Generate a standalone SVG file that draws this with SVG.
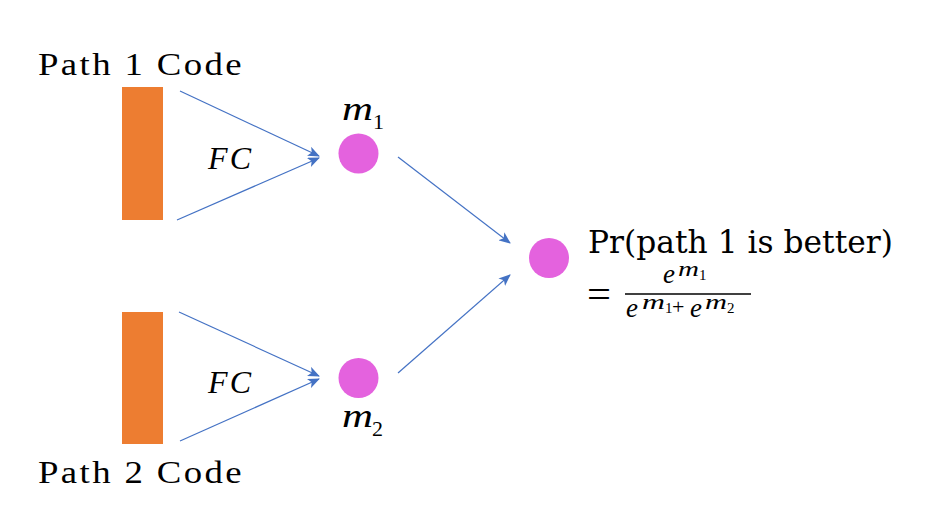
<svg xmlns="http://www.w3.org/2000/svg" width="945" height="525" viewBox="0 0 945 525">
<style>
.lbl{font-family:"Liberation Serif","DejaVu Serif",serif;font-size:31px;letter-spacing:2px;fill:#000}
.math{font-family:"Liberation Serif","DejaVu Serif",serif;font-style:italic;fill:#000}
.up{font-family:"Liberation Serif","DejaVu Serif",serif;fill:#000}
.code{fill:#ED7D31}
.node{fill:#E462DE}
.conn line{stroke:#4472C4;stroke-width:1.2;fill:none}
.txt{font-family:"DejaVu Serif","Liberation Serif",serif;fill:#000}
</style>
<defs>
<marker id="ah" markerWidth="12" markerHeight="10" refX="11" refY="5" orient="auto" markerUnits="userSpaceOnUse">
<path d="M0,0 L12,5 L0,10 L3,5 Z" fill="#4472C4"/>
</marker>
</defs>
<rect width="945" height="525" fill="#fff"/>
<g id="path1">
<rect class="code" x="122" y="87" width="41" height="133"/>
<text class="lbl" x="38" y="75" textLength="206" lengthAdjust="spacingAndGlyphs">Path 1 Code</text>
</g>
<g id="path2">
<rect class="code" x="122" y="312" width="41" height="132"/>
<text class="lbl" x="38" y="483" textLength="206" lengthAdjust="spacingAndGlyphs">Path 2 Code</text>
</g>
<g id="m1">
<circle class="node" cx="358.5" cy="153.5" r="20"/>
<text class="math" x="342" y="120" font-size="33" textLength="31" lengthAdjust="spacingAndGlyphs">m</text>
<text class="up" x="373" y="129" font-size="22">1</text>
</g>
<g id="m2">
<circle class="node" cx="358.5" cy="378" r="20"/>
<text class="math" x="342" y="427" font-size="33" textLength="31" lengthAdjust="spacingAndGlyphs">m</text>
<text class="up" x="372" y="436" font-size="22">2</text>
</g>
<g id="out">
<circle class="node" cx="549" cy="258" r="20"/>
<text class="txt" x="588" y="253" font-size="31" textLength="305" lengthAdjust="spacingAndGlyphs">Pr(path 1 is better)</text>
<text class="up" x="587" y="307" font-size="38" textLength="24" lengthAdjust="spacingAndGlyphs">=</text>
<line x1="625" y1="294" x2="751" y2="294" stroke="#000" stroke-width="1.6"/>
<text class="math" x="663" y="283" font-size="27">e</text>
<text class="math" x="678" y="276" font-size="21" textLength="21" lengthAdjust="spacingAndGlyphs">m</text>
<text class="up" x="699" y="280" font-size="15">1</text>
<text class="math" x="626" y="317" font-size="27">e</text>
<text class="math" x="642" y="309" font-size="22" textLength="23" lengthAdjust="spacingAndGlyphs">m</text>
<text class="up" x="665" y="313" font-size="15">1</text>
<text class="up" x="672" y="314" font-size="22">+</text>
<text class="math" x="690" y="317" font-size="27">e</text>
<text class="math" x="705" y="309" font-size="22" textLength="22" lengthAdjust="spacingAndGlyphs">m</text>
<text class="up" x="727" y="313" font-size="15">2</text>
</g>
<g id="fc1"><text class="math" x="208" y="169" font-size="32" textLength="43" lengthAdjust="spacing">FC</text></g>
<g id="fc2"><text class="math" x="208" y="393" font-size="32" textLength="43" lengthAdjust="spacing">FC</text></g>
<g class="conn" id="connectors">
<line x1="180" y1="91" x2="319" y2="156" marker-end="url(#ah)"/>
<line x1="177" y1="220" x2="319" y2="158" marker-end="url(#ah)"/>
<line x1="179" y1="312" x2="319" y2="376" marker-end="url(#ah)"/>
<line x1="180" y1="441" x2="319" y2="379" marker-end="url(#ah)"/>
<line x1="398" y1="157" x2="510" y2="243" marker-end="url(#ah)"/>
<line x1="398" y1="373" x2="510" y2="275" marker-end="url(#ah)"/>
</g>
</svg>
